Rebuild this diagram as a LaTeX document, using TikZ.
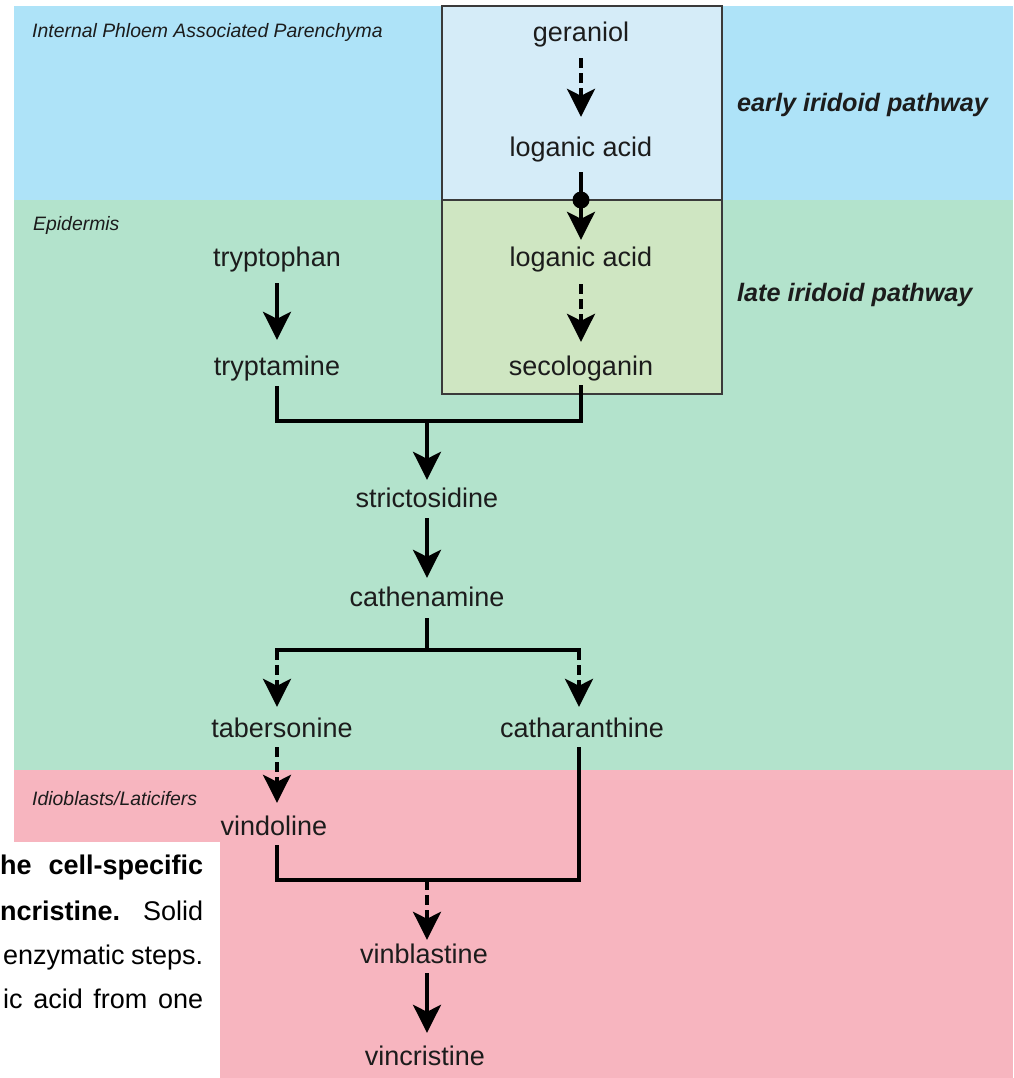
\documentclass[tikz,border=0pt]{standalone}
\usepackage{fontspec}
\setmainfont{Liberation Sans}
\usetikzlibrary{arrows.meta}
\definecolor{bandblue}{HTML}{AEE3F8}
\definecolor{boxblue}{HTML}{D5ECF8}
\definecolor{bandgreen}{HTML}{B3E3CC}
\definecolor{boxgreen}{HTML}{CFE6C2}
\definecolor{bandpink}{HTML}{F7B5BF}
\definecolor{ink}{HTML}{1C1C1C}
\definecolor{boxline}{HTML}{3A3A3A}
\begin{document}
\begin{tikzpicture}[x=1pt,y=-1pt,
  chem/.style={font=\fontsize{27}{32}\selectfont, text=ink, inner sep=0pt, text height=20pt, text depth=6pt, anchor=base},
  zone/.style={font=\fontsize{19.4}{23}\selectfont\itshape, text=ink, inner sep=0pt, anchor=base west},
  pathlbl/.style={font=\fontsize{25.2}{30}\selectfont\bfseries\itshape, text=ink, inner sep=0pt, anchor=base west},
  captxt/.style={font=\fontsize{27}{32}\selectfont, text=black, inner sep=0pt, anchor=base west},
  lnk/.style={line width=3.6pt, draw=black},
  solidarr/.style={lnk, -{Stealth[length=28pt,width=28pt,inset=7pt]}},
  dasharr/.style={solidarr, dash pattern=on 10pt off 5pt},
  zonebox/.style={draw=boxline, line width=1.5pt},
]
\useasboundingbox (0,0) rectangle (1013,1078);
% backgrounds
\fill[white] (0,0) rectangle (1013,1078);
\fill[bandblue] (14,6) rectangle (1013,200);
\fill[bandgreen] (14,200) rectangle (1013,770);
\fill[bandpink] (14,770) rectangle (1013,1078);
\filldraw[zonebox, fill=boxblue] (442,6) rectangle (722,200);
\filldraw[zonebox, fill=boxgreen] (442,200) rectangle (722,394);
\fill[white] (0,842) rectangle (220,1078);

% zone labels
\node[zone] (zipap) at (32,38) {Internal Phloem Associated Parenchyma};
\node[zone] (zepi) at (33,230) {Epidermis};
\node[zone] (zidio) at (32,805) {Idioblasts/Laticifers};
\node[pathlbl] (early) at (737,112) {early iridoid pathway};
\node[pathlbl] (late) at (737,301) {late iridoid pathway};

% compounds
\node[chem] (ger) at (581,42) {geraniol};
\node[chem] (log1) at (581,157) {loganic acid};
\node[chem] (log2) at (581,266) {loganic acid};
\node[chem] (seco) at (581,375) {secologanin};
\node[chem] (trp) at (277,266) {tryptophan};
\node[chem] (tra) at (277,375) {tryptamine};
\node[chem] (str) at (427,507) {strictosidine};
\node[chem] (cat) at (427,606) {cathenamine};
\node[chem] (tab) at (282,737) {tabersonine};
\node[chem] (cth) at (582,737) {catharanthine};
\node[chem] (vdl) at (274,835) {vindoline};
\node[chem] (vbl) at (424,963) {vinblastine};
\node[chem] (vcr) at (425,1065) {vincristine};

% helper coordinates
\coordinate (colL) at (277,0);
\coordinate (colM) at (427,0);
\coordinate (colR) at (579,0);
\coordinate (cross) at (581,200);
\coordinate (j1) at (427,421);
\coordinate (j2) at (427,650);
\coordinate (j3) at (427,880);

% connectors
\draw[dasharr, shorten <=10pt, shorten >=20pt] (ger.south) -- (log1.north);
\draw[lnk, shorten <=9pt] (log1.south) -- (cross);
\draw[solidarr, shorten >=6pt] (cross) -- (log2.north);
\fill[black] (cross) circle (8.5pt);
\draw[dasharr, shorten <=12pt, shorten >=13pt] (log2.south) -- (seco.north);
\draw[solidarr, shorten <=11pt, shorten >=15pt] (trp.south) -- (tra.north);
\draw[lnk, shorten <=5pt, shorten >=4pt] (tra.south) |- (j1) -| (seco.south);
\draw[solidarr, shorten >=7pt] (j1) -- (str.north -| colM);
\draw[solidarr, shorten <=5pt, shorten >=8pt] (str.south) -- (cat.north);
\draw[lnk, shorten <=6pt] (cat.south) -- (j2);
\draw[lnk, line cap=rect] (j2 -| colL) -- (j2 -| colR);
\draw[dasharr, shorten >=10pt] (j2 -| colL) -- (tab.north -| colL);
\draw[dasharr, shorten >=10pt] (j2 -| colR) -- (cth.north -| colR);
\draw[dasharr, shorten <=4pt, shorten >=12pt] (tab.south -| colL) -- (vdl.north -| colL);
\draw[lnk, shorten <=4pt, shorten >=4pt] (vdl.south -| colL) |- (j3) -| (cth.south -| colR);
\draw[dasharr, shorten >=3pt] (j3) -- (vbl.north -| colM);
\draw[solidarr, shorten <=4pt, shorten >=12pt] (vbl.south -| colM) -- (vcr.north -| colM);

% caption fragment
\node[captxt] (cap1) at (0,874) {\makebox[203pt][s]{\bfseries he cell-specific}};
\node[captxt] (cap2) at (0,920) {\makebox[203pt][s]{\textbf{ncristine.} Solid}};
\node[captxt] (cap3) at (3,964) {\makebox[200pt][s]{enzymatic steps.}};
\node[captxt] (cap4) at (3,1008) {\makebox[200pt][s]{ic acid from one}};
\end{tikzpicture}
\end{document}
